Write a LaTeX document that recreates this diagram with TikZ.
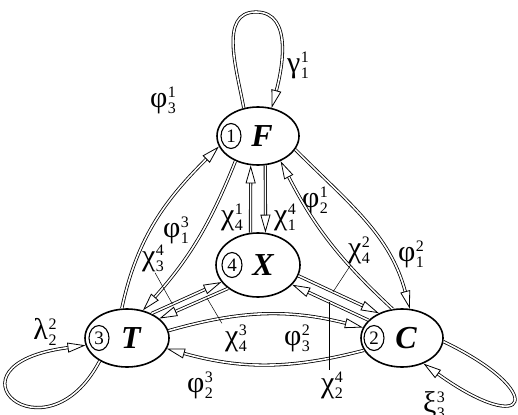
\documentclass[tikz,border=0pt]{standalone}
\usepackage{fontspec}
\setmainfont{Liberation Serif}
\usetikzlibrary{shapes.geometric,arrows.meta}
\newcommand\glab[3]{#1\kern.5pt\makebox[0pt][l]{\raisebox{10pt}{\fontsize{16}{16}\selectfont #2}}\raisebox{-6pt}{\fontsize{16}{16}\selectfont #3}}
\tikzset{
  st/.style={ellipse, draw, line width=1.6pt, inner sep=0pt},
  numc/.style={ellipse, draw, line width=1.1pt, minimum width=20pt, minimum height=25pt, inner sep=0pt, font=\fontsize{19}{19}\selectfont},
  letr/.style={font=\fontsize{32}{32}\selectfont\bfseries\itshape, inner sep=0pt},
  dbl/.style={double, line width=0.8pt, double distance=1.6pt, -{Triangle[open, length=18pt, width=10pt, line width=0.8pt]}},
  lab/.style={font=\fontsize{30}{30}\selectfont, inner sep=1pt},
  lead/.style={line width=0.5pt}
}
\begin{document}
\begin{tikzpicture}[x=1pt,y=1pt]
\useasboundingbox (0,0) rectangle (518,-414);
% states
\node[st, minimum width=82pt, minimum height=58pt] (F) at (258,-136) {};
\node[st, minimum width=84pt, minimum height=64pt] (X) at (258,-265) {};
\node[st, minimum width=84pt, minimum height=58pt] (T) at (127,-338) {};
\node[st, minimum width=82pt, minimum height=58pt] (C) at (402,-338) {};
\node[numc] (Fn) at ([xshift=-27pt]F.center) {1};
\node[numc] (Xn) at ([xshift=-26pt]X.center) {4};
\node[numc] (Tn) at ([xshift=-28pt]T.center) {3};
\node[numc] (Cn) at ([xshift=-28pt]C.center) {2};
\node[letr] (Fl) at ([xshift=4pt]F.center) {F};
\node[letr] (Xl) at ([xshift=5pt]X.center) {X};
\node[letr] (Tl) at ([xshift=4pt]T.center) {T};
\node[letr] (Cl) at ([xshift=4pt]C.center) {C};
\coordinate (Ftop) at (256,-12);
% labels
\node[lab] (lg) at (298,-65) {\glab{γ}{1}{1}};
\node[lab] (l13) at (163,-100) {\glab{φ}{1}{3}};
\node[lab] (l31) at (176,-230) {\glab{φ}{3}{1}};
\node[lab] (l43) at (153,-258) {\glab{χ}{4}{3}};
\node[lab] (l14) at (232,-217) {\glab{χ}{1}{4}};
\node[lab] (l41) at (285,-217) {\glab{χ}{4}{1}};
\node[lab] (l12) at (315,-200) {\glab{φ}{1}{2}};
\node[lab] (l21) at (411,-254) {\glab{φ}{2}{1}};
\node[lab] (l24) at (359,-250) {\glab{χ}{2}{4}};
\node[lab] (l23) at (297,-338) {\glab{φ}{2}{3}};
\node[lab] (l32) at (200,-385) {\glab{φ}{3}{2}};
\node[lab] (l34) at (236,-338) {\glab{χ}{3}{4}};
\node[lab] (l42) at (332,-385) {\glab{χ}{4}{2}};
\node[lab] (l22) at (45,-332) {\glab{λ}{2}{2}};
\node[lab] (l33) at (434,-405) {\glab{ξ}{3}{3}};
% self loops
\draw[dbl] (F.117) to[out=100,in=180] (Ftop) to[out=0,in=75] (F.64);
\draw[dbl] (T.220) .. controls (45,-465) and (-65,-365) .. (T.190);
\draw[dbl] (C.355) .. controls (549,-392) and (530,-440) .. (C.310);
% outer arcs
\draw[dbl] (T.100) to[out=78,in=225] (F.195);
\draw[dbl] (F.228) to[bend left=10] (T.60);
\draw[dbl] (C.108) to[bend left=10] (F.312);
\draw[dbl] (F.340) to[out=-45,in=105] (C.75);
\draw[dbl] (T.10) to[bend left=15] (C.165);
\draw[dbl] (C.198) to[bend left=15] (T.345);
% X links
\draw[dbl] (X.103) -- (F.256);
\draw[dbl] (F.284) -- (X.77);
\draw[dbl] (T.45) -- coordinate[pos=0.3] (c43) (X.205);
\draw[dbl] (X.218) -- coordinate[pos=0.31] (c34) (T.31);
\draw[dbl] (X.345) -- coordinate[pos=0.43] (c24) (C.133);
\draw[dbl] (C.152) -- coordinate[pos=0.515] (c42) (X.330);
% leaders
\draw[lead] ([xshift=2pt]l43.south) -- (c43);
\draw[lead] ([xshift=-2pt]l34.north west) -- (c34);
\draw[lead] ([xshift=4pt]l24.south west) -- (c24);
\draw[lead] (c42) -- (c42 |- l42.north);
\end{tikzpicture}
\end{document}
